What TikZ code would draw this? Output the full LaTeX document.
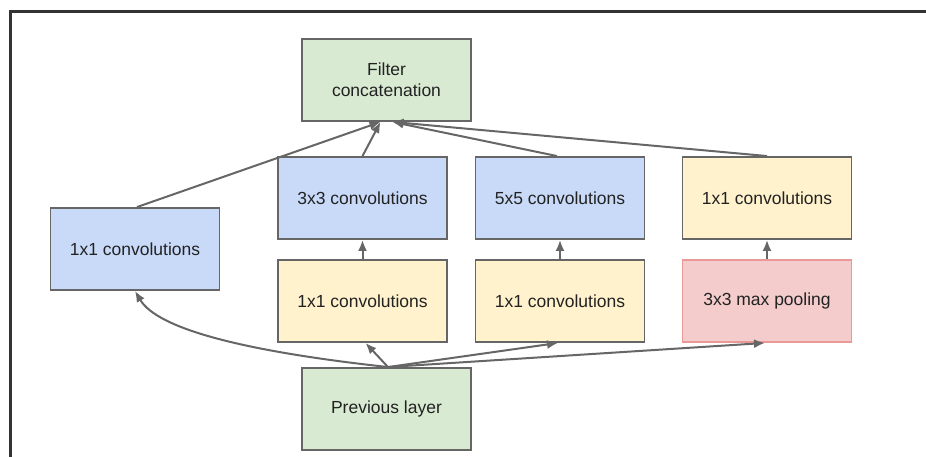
\documentclass[tikz,border=0pt]{standalone}
\usepackage{fontspec}
\setmainfont{Liberation Sans}
\usetikzlibrary{arrows.meta}
\definecolor{blockblue}{HTML}{C9DAF8}
\definecolor{blockyellow}{HTML}{FFF2CC}
\definecolor{blockgreen}{HTML}{D9EAD3}
\definecolor{blockred}{HTML}{F4CCCC}
\definecolor{pooledge}{HTML}{EA9999}
\definecolor{edgegray}{HTML}{666666}
\definecolor{linkgray}{HTML}{666666}
\definecolor{textgray}{HTML}{222222}
\definecolor{framegray}{HTML}{333333}
\tikzset{
  block/.style={draw=edgegray, line width=1.9pt, rectangle,
    minimum width=169pt, minimum height=82pt, inner sep=0pt,
    text=textgray, align=center,
    font=\fontsize{17.5}{21}\selectfont},
  blue/.style={block, fill=blockblue},
  yellow/.style={block, fill=blockyellow},
  green/.style={block, fill=blockgreen},
  pool/.style={block, fill=blockred, draw=pooledge},
  link/.style={draw=linkgray, line width=2pt,
    -{Latex[length=11pt,width=9pt]}},
}
\begin{document}
\begin{tikzpicture}[x=1pt, y=-1pt]
  \useasboundingbox (0,0) rectangle (926,457);
  % outer frame: top and left edges
  \draw[framegray, line width=3pt] (10,457) -- (10,12) -- (926,12);

  % blocks
  \node[green]  (concat) at (386.5,80)  {Filter\\concatenation};
  \node[blue]   (left)   at (135,249)   {1x1 convolutions};
  \node[blue]   (c3)     at (362.5,198) {3x3 convolutions};
  \node[yellow] (r3)     at (362.5,301) {1x1 convolutions};
  \node[blue]   (c5)     at (560,198)   {5x5 convolutions};
  \node[yellow] (r5)     at (560,301)   {1x1 convolutions};
  \node[yellow] (pp)     at (767,198)   {1x1 convolutions};
  \node[pool]   (mp)     at (767,301)   {3x3 max pooling};
  \node[green]  (prev)   at (386.5,409) {Previous layer};

  % fan-out from the previous layer
  \coordinate (src) at ([xshift=1.5pt]prev.north);
  \draw[link] (src) .. controls (250,352) and (158,330) .. (left.south);
  \draw[link] (src) -- ([xshift=3pt]r3.south);
  \draw[link] (src) -- ([xshift=-2pt]r5.south);
  \draw[link] (src) -- ([xshift=-2pt]mp.south);

  % reductions feeding the larger convolutions
  \draw[link] (r3.north) -- (c3.south);
  \draw[link] (r5.north) -- (c5.south);
  \draw[link] (mp.north) -- (pp.south);

  % branch outputs into the concatenation
  \draw[link] ([xshift=2pt]left.north) -- ([xshift=-6pt]concat.south);
  \draw[link] (c3.north) -- ([xshift=-6pt]concat.south);
  \draw[link] ([xshift=-3pt]c5.north) -- ([xshift=6pt]concat.south);
  \draw[link] (pp.north) -- ([xshift=6pt]concat.south);
\end{tikzpicture}
\end{document}
